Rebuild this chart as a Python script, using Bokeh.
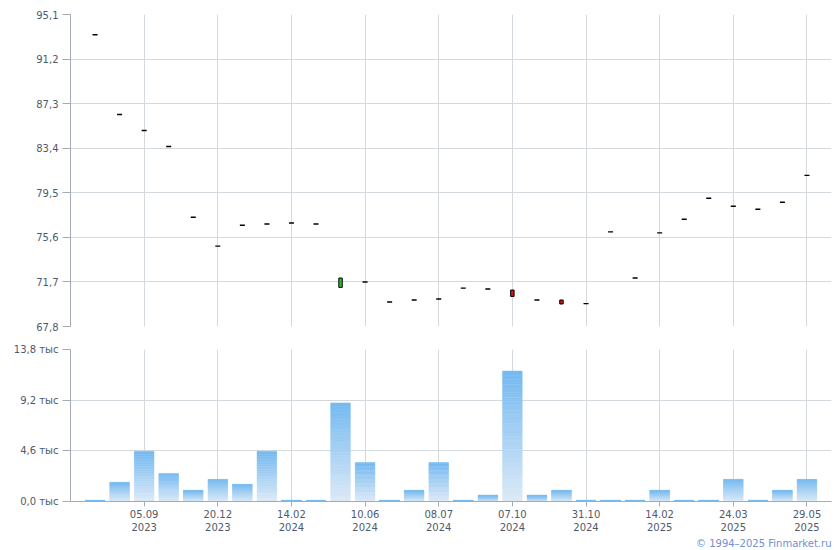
from bokeh.plotting import figure
from bokeh.layouts import column
from bokeh.models import FixedTicker, CustomJSTickFormatter, Range1d, Title, ColumnDataSource
from bokeh.embed import file_html
from bokeh.resources import INLINE

# ---- data ----
slots = list(range(30))
opens = [93.33, 86.35, 84.95, 83.55, 77.36, 74.83, 76.66, 76.77, 76.86, 76.77,
         71.22, 71.69, 69.94, 70.12, 70.20, 71.16, 71.08, 70.99, 70.12, 70.12,
         69.80, 76.08, 72.04, 75.99, 77.18, 79.02, 78.32, 78.06, 78.67, 81.02]
closes = [93.33, 86.35, 84.95, 83.55, 77.36, 74.83, 76.66, 76.77, 76.86, 76.77,
          72.04, 71.69, 69.94, 70.12, 70.20, 71.16, 71.08, 70.43, 70.12, 69.77,
          69.80, 76.08, 72.04, 75.99, 77.18, 79.02, 78.32, 78.06, 78.67, 81.02]
volumes = [100, 1740, 4560, 2550, 1020, 2010, 1560, 4560, 100, 100,
           8950, 3540, 100, 1020, 3540, 100, 570, 11840, 570, 1020,
           100, 100, 100, 1020, 100, 100, 2010, 100, 1020, 2010]
tick_slots = [2, 5, 8, 11, 14, 17, 20, 23, 26, 29]
tick_dates = ["05.09", "20.12", "14.02", "10.06", "08.07", "07.10", "31.10", "14.02", "24.03", "29.05"]
tick_years = ["2023", "2023", "2024", "2024", "2024", "2024", "2024", "2025", "2025", "2025"]
price_ticks = [67.8, 71.7, 75.6, 79.5, 83.4, 87.3, 91.2, 95.1]
volume_ticks = [0, 4600, 9200, 13800]

FONT = "DejaVu Sans"
FSIZE = "10px"
LABEL_COLOR = "#4f5a6c"
GRID_COLOR = "#d4d9dd"
AXIS_COLOR = "#a4abb6"

x_range = Range1d(-1, 30)


def style(p):
    p.outline_line_color = None
    p.background_fill_color = "white"
    p.border_fill_color = "white"
    for ax in p.axis:
        ax.axis_line_color = AXIS_COLOR
        ax.major_tick_line_color = AXIS_COLOR
        ax.minor_tick_line_color = None
        ax.major_label_text_font = FONT
        ax.major_label_text_font_size = FSIZE
        ax.major_label_text_color = LABEL_COLOR
        ax.major_tick_in = 0
    p.grid.grid_line_color = GRID_COLOR
    p.grid.grid_line_width = 1


# ---- price chart ----
p1 = figure(width=832, height=336, x_range=x_range, y_range=Range1d(67.8, 95.1),
            output_backend="svg", toolbar_location=None,
            min_border_left=70, min_border_right=1, min_border_top=14, min_border_bottom=10)
style(p1)
p1.xaxis.visible = False
p1.xgrid.ticker = FixedTicker(ticks=tick_slots)
p1.yaxis.ticker = FixedTicker(ticks=price_ticks)
p1.ygrid.ticker = FixedTicker(ticks=price_ticks)
p1.yaxis.major_tick_out = 8
p1.yaxis.major_label_standoff = 4
p1.yaxis.formatter = CustomJSTickFormatter(code="return tick.toFixed(1).replace('.', ',');")

doji_x, doji_y = [], []
up_x, up_b, up_t = [], [], []
dn_x, dn_b, dn_t = [], [], []
for s, o, c in zip(slots, opens, closes):
    if abs(c - o) < 1e-9:
        doji_x.append(s); doji_y.append(o)
    elif c > o:
        up_x.append(s); up_b.append(o); up_t.append(c)
    else:
        dn_x.append(s); dn_b.append(c); dn_t.append(o)

p1.rect(doji_x, doji_y, width=5, height=1.4, width_units="screen", height_units="screen",
        fill_color="black", line_color=None)
p1.vbar(x=up_x, bottom=up_b, top=up_t, width=0.14, fill_color="#25c030", line_color="black", line_width=1)
p1.vbar(x=dn_x, bottom=dn_b, top=dn_t, width=0.14, fill_color="#dd1010", line_color="black", line_width=1)

# ---- volume chart ----
p2 = figure(width=832, height=212, x_range=x_range, y_range=Range1d(0, 13800),
            output_backend="svg", toolbar_location=None,
            min_border_left=70, min_border_right=1, min_border_top=13, min_border_bottom=47)
style(p2)
p2.xaxis.ticker = FixedTicker(ticks=tick_slots)
p2.xaxis.major_label_overrides = {s: f"{d}\n{y}" for s, d, y in zip(tick_slots, tick_dates, tick_years)}
p2.xaxis.major_tick_out = 5
p2.xaxis.major_label_standoff = 2
p2.yaxis.ticker = FixedTicker(ticks=volume_ticks)
p2.ygrid.ticker = FixedTicker(ticks=volume_ticks)
p2.xgrid.ticker = FixedTicker(ticks=tick_slots)
p2.yaxis.major_tick_out = 8
p2.yaxis.major_label_standoff = 4
p2.yaxis.formatter = CustomJSTickFormatter(code="return (tick/1000).toFixed(1).replace('.', ',') + ' тыс';")

# gradient bars: each bar split into horizontal slices, dark on top to light at bottom
TOP_RGB = (116, 185, 240)
BOT_RGB = (221, 234, 247)
N = 30
bx, bb, bt, bc = [], [], [], []
for s, v in zip(slots, volumes):
    for j in range(N):
        f = (j + 0.5) / N
        r = round(BOT_RGB[0] + (TOP_RGB[0] - BOT_RGB[0]) * f)
        g = round(BOT_RGB[1] + (TOP_RGB[1] - BOT_RGB[1]) * f)
        b = round(BOT_RGB[2] + (TOP_RGB[2] - BOT_RGB[2]) * f)
        bx.append(s)
        bb.append(v * j / N)
        bt.append(v * (j + 1) / N)
        bc.append("#%02x%02x%02x" % (r, g, b))
src = ColumnDataSource(dict(x=bx, bottom=bb, top=bt, color=bc))
p2.vbar(x="x", bottom="bottom", top="top", width=0.8, fill_color="color", line_color="color",
        line_width=0.5, source=src)

p2.add_layout(Title(text="© 1994–2025 Finmarket.ru", align="right", standoff=0,
                    text_font=FONT, text_font_size="10px", text_font_style="normal",
                    text_color="#6f8fd6"), "below")

layout = column(p1, p2, spacing=0)
open("out.html", "w").write(file_html(layout, INLINE))
